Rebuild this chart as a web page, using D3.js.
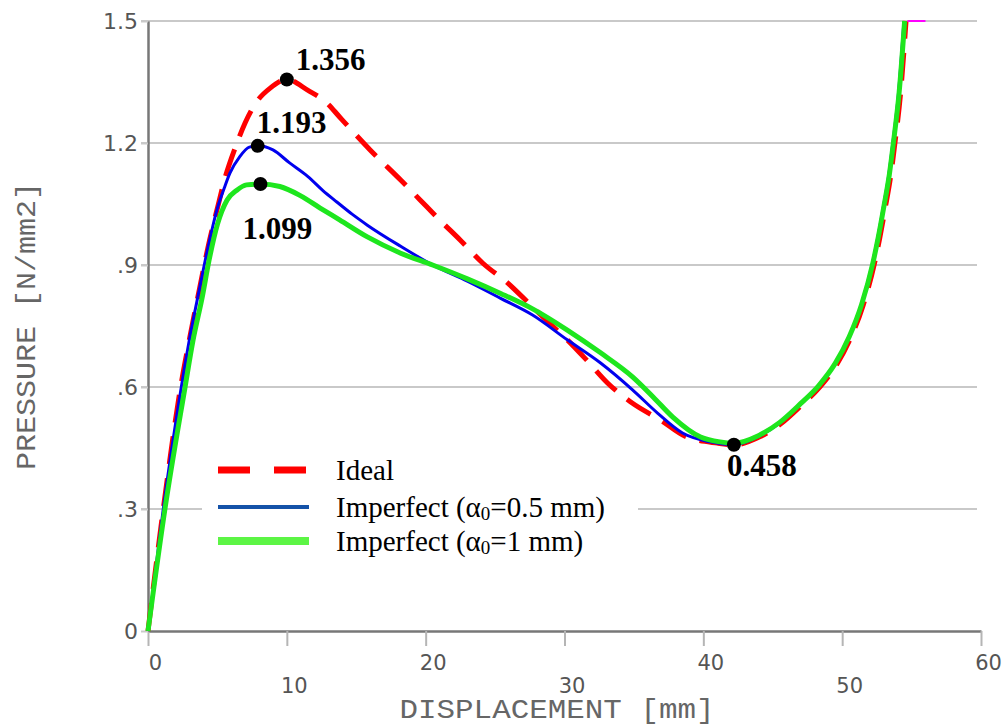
<!DOCTYPE html>
<html>
<head>
<meta charset="utf-8">
<script src="https://cdn.jsdelivr.net/npm/d3@7"></script>
<style>
  html, body { margin: 0; padding: 0; background: #fff; }
  svg { display: block; }
</style>
</head>
<body>
<svg id="chart" width="1005" height="726"></svg>
<script>
// ---------- data ----------
const xTicks = [0, 10, 20, 30, 40, 50, 60];
const yTicks = [0, 0.3, 0.6, 0.9, 1.2, 1.5];
const yTickLabels = ["0", ".3", ".6", ".9", "1.2", "1.5"];

const idealX = [0, 1.1, 2.35, 3.0, 3.7, 4.3, 5.0, 5.6, 6.3, 7.0, 7.8, 8.8, 10.0, 11.5, 12.9, 13.8, 16.0, 18.2, 19.6, 21.0, 22.5, 24.1, 25.9, 27.7, 29.2, 30.2, 31.6, 33.1, 34.9, 36.9, 38.8, 41.0, 42.2, 44.1, 45.6, 47.1, 48.4, 49.6, 50.6, 51.5, 52.3, 52.7, 53.1, 53.5, 53.8, 54.2, 54.6];
const idealY = [0, 0.3, 0.6, 0.72, 0.84, 0.94, 1.04, 1.12, 1.19, 1.25, 1.30, 1.335, 1.356, 1.33, 1.298, 1.264, 1.183, 1.109, 1.06, 1.011, 0.961, 0.905, 0.856, 0.797, 0.748, 0.716, 0.666, 0.61, 0.56, 0.519, 0.477, 0.462, 0.458, 0.478, 0.51, 0.556, 0.60, 0.655, 0.72, 0.80, 0.90, 0.965, 1.04, 1.12, 1.20, 1.32, 1.5];

const imp05X = [0, 1.1, 2.4, 3.0, 3.7, 4.3, 5.0, 5.5, 5.9, 6.6, 7.3, 7.9, 9.0, 10.2, 11.5, 12.6, 13.6, 14.7, 15.8, 18.2, 20.5, 23.0, 25.4, 27.7, 30.2, 32.6, 34.9, 36.7, 38.5, 40.5, 42.2, 43.95, 45.45, 46.95, 48.25, 49.45, 50.45, 51.35, 52.15, 52.55, 52.95, 53.35, 53.65, 54.05, 54.45];
const imp05Y = [0, 0.3, 0.6, 0.72, 0.84, 0.94, 1.04, 1.09, 1.126, 1.166, 1.19, 1.193, 1.183, 1.151, 1.118, 1.083, 1.055, 1.025, 0.998, 0.946, 0.9, 0.86, 0.818, 0.777, 0.716, 0.659, 0.593, 0.536, 0.487, 0.465, 0.458, 0.478, 0.51, 0.556, 0.60, 0.655, 0.72, 0.80, 0.90, 0.965, 1.04, 1.12, 1.20, 1.32, 1.5];

const imp1X = [0, 1.22, 2.67, 3.25, 3.9, 4.4, 5.0, 5.7, 6.4, 7.1, 8.1, 9.5, 11.0, 12.4, 13.8, 15.8, 18.2, 20.5, 23.0, 25.4, 27.7, 30.2, 32.6, 34.9, 36.4, 37.8, 39.8, 41.2, 42.2, 44.0, 45.5, 47.0, 48.3, 49.5, 50.5, 51.4, 52.2, 52.6, 53.0, 53.4, 53.7, 54.1, 54.5];
const imp1Y = [0, 0.3, 0.6, 0.716, 0.82, 0.912, 1.0, 1.06, 1.084, 1.097, 1.099, 1.093, 1.07, 1.04, 1.011, 0.969, 0.929, 0.9, 0.866, 0.83, 0.792, 0.74, 0.684, 0.625, 0.575, 0.526, 0.477, 0.465, 0.462, 0.481, 0.513, 0.559, 0.603, 0.658, 0.723, 0.803, 0.903, 0.968, 1.043, 1.123, 1.203, 1.323, 1.5];

const clipX = [54.7, 56.0];
const clipY = [1.5, 1.5];

const markerX = [10.0, 7.9, 8.1, 42.2];
const markerY = [1.356, 1.193, 1.099, 0.458];
const markerLabels = ["1.356", "1.193", "1.099", "0.458"];

const seriesNames = ["Ideal", "Imperfect (α0=0.5 mm)", "Imperfect (α0=1 mm)"];

// ---------- layout / style ----------
const svg = d3.select("#chart");
const x = d3.scaleLinear().domain([0, 60]).range([148, 981]);
const y = d3.scaleLinear().domain([0, 1.5]).range([631, 21]);

const zip = (xs, ys) => xs.map((v, i) => [v, ys[i]]);
const line = d3.line().x(d => x(d[0])).y(d => y(d[1])).curve(d3.curveMonotoneX);

// gridlines
svg.append("g").selectAll("line").data(yTicks.filter(v => v > 0)).join("line")
  .attr("x1", x(0) - 7).attr("x2", x(60) - 4)
  .attr("y1", d => y(d)).attr("y2", d => y(d))
  .attr("stroke", "#c9c9c9").attr("stroke-width", 2);

// x axis
const xAxis = svg.append("g").attr("transform", `translate(0,${y(0)})`)
  .call(d3.axisBottom(x).tickValues(xTicks).tickSize(15).tickSizeOuter(0).tickPadding(0).tickFormat(d3.format("d")));
xAxis.select(".domain").attr("stroke", "#777").attr("stroke-width", 2.5);
xAxis.selectAll(".tick line").attr("stroke", "#b5b5b5").attr("stroke-width", 2);
xAxis.selectAll(".tick text")
  .attr("font-family", "DejaVu Sans").attr("font-size", 21).attr("fill", "#555")
  .attr("dx", 7)
  .attr("dy", null)
  .attr("y", (d, i) => i % 2 === 0 ? 39 : 62);

// y axis
const yAxis = svg.append("g").attr("transform", `translate(${x(0)},0)`)
  .call(d3.axisLeft(y).tickValues(yTicks).tickSize(7).tickSizeOuter(0).tickPadding(3)
    .tickFormat((d, i) => yTickLabels[i]));
yAxis.select(".domain").attr("stroke", "#777").attr("stroke-width", 2.5);
yAxis.selectAll(".tick line").attr("stroke", "#c9c9c9").attr("stroke-width", 2);
yAxis.selectAll(".tick text")
  .attr("font-family", "DejaVu Sans").attr("font-size", 22).attr("fill", "#555");

// axis titles
svg.append("text")
  .attr("x", 557).attr("y", 718).attr("text-anchor", "middle")
  .attr("font-family", "Liberation Mono").attr("font-size", 27).attr("fill", "#666")
  .attr("textLength", 315).attr("lengthAdjust", "spacingAndGlyphs")
  .text("DISPLACEMENT [mm]");
svg.append("text")
  .attr("transform", "translate(35,326) rotate(-90)")
  .attr("text-anchor", "middle")
  .attr("font-family", "Liberation Mono").attr("font-size", 27).attr("fill", "#666")
  .attr("textLength", 288).attr("lengthAdjust", "spacingAndGlyphs")
  .text("PRESSURE [N/mm2]");

// curves
svg.append("path").datum(zip(idealX, idealY)).attr("d", line)
  .attr("fill", "none").attr("stroke", "#ff0000").attr("stroke-width", 5)
  .attr("stroke-dasharray", "28,14");
svg.append("path").datum(zip(imp05X, imp05Y)).attr("d", line)
  .attr("fill", "none").attr("stroke", "#0000ee").attr("stroke-width", 3);
svg.append("path").datum(zip(imp1X, imp1Y)).attr("d", line)
  .attr("fill", "none").attr("stroke", "#1ee61e").attr("stroke-width", 5);
svg.append("path").datum(zip(clipX, clipY)).attr("d", line)
  .attr("fill", "none").attr("stroke", "#ff00ff").attr("stroke-width", 2);

// markers
const markers = markerX.map((v, i) => ({ x: v, y: markerY[i], label: markerLabels[i] }));
const labelOffsets = [[9, -10], [-1, -13], [-18, 55], [-7, 31]];
svg.append("g").selectAll("circle").data(markers).join("circle")
  .attr("cx", d => x(d.x)).attr("cy", d => y(d.y)).attr("r", 7).attr("fill", "#000");
svg.append("g").selectAll("text").data(markers).join("text")
  .attr("x", (d, i) => x(d.x) + labelOffsets[i][0])
  .attr("y", (d, i) => y(d.y) + labelOffsets[i][1])
  .attr("font-family", "Liberation Serif").attr("font-weight", "bold")
  .attr("font-size", 31).attr("fill", "#000")
  .text(d => d.label);

// legend
const legend = svg.append("g");
legend.append("rect").attr("x", 202).attr("y", 447).attr("width", 436).attr("height", 118).attr("fill", "#fff");
const legRows = [470, 507, 541];
const legStyles = [
  { stroke: "#ff0000", width: 7, dash: "32,24" },
  { stroke: "#1452a8", width: 4, dash: null },
  { stroke: "#5cf545", width: 8, dash: null }
];
seriesNames.forEach((name, i) => {
  legend.append("line")
    .attr("x1", 218).attr("x2", i === 0 ? 306 : 309)
    .attr("y1", legRows[i]).attr("y2", legRows[i])
    .attr("stroke", legStyles[i].stroke).attr("stroke-width", legStyles[i].width)
    .attr("stroke-dasharray", legStyles[i].dash);
  const t = legend.append("text")
    .attr("x", 336).attr("y", legRows[i] + 10)
    .attr("font-family", "Liberation Serif").attr("font-size", 29).attr("fill", "#000");
  const m = name.match(/^(.*α)0(.*)$/);
  if (m) {
    t.append("tspan").text(m[1]);
    t.append("tspan").attr("font-size", 19).attr("dy", 3).text("0");
    t.append("tspan").attr("dy", -3).text(m[2]);
  } else {
    t.text(name);
  }
});
</script>
</body>
</html>
